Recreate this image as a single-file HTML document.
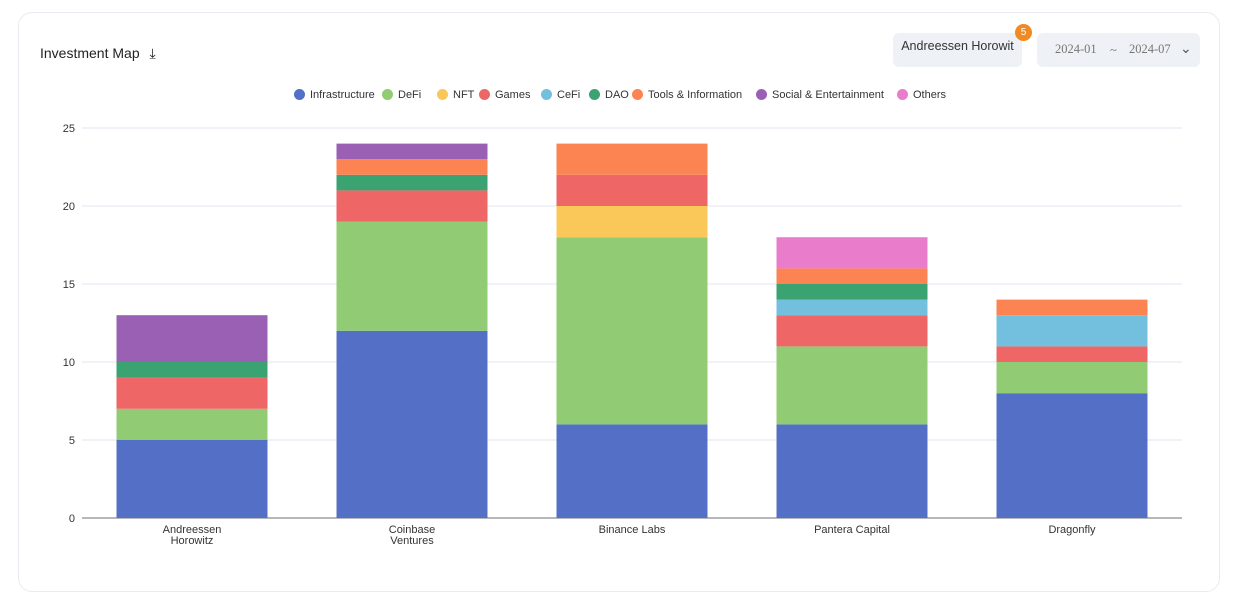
<!DOCTYPE html>
<html><head><meta charset="utf-8"><style>
body{margin:0;width:1246px;height:580px;background:#fff;font-family:"Liberation Sans",sans-serif;overflow:hidden;position:relative}
.card{position:absolute;left:18px;top:12px;width:1202px;height:580px;border:1px solid #e8ebf0;border-radius:14px;box-sizing:border-box}
.title{position:absolute;left:40px;top:45px;font-size:14px;color:#222;font-weight:500}
.btn{position:absolute;left:893px;top:33px;width:129px;height:34px;background:#eef1f5;border-radius:6px;font-size:12.5px;color:#333;text-align:center;line-height:26px}
.badge{position:absolute;left:1015px;top:24px;width:17px;height:17px;border-radius:50%;background:#f08a24;color:#fff;font-size:10px;text-align:center;line-height:17px}
.date{position:absolute;left:1037px;top:33px;width:163px;height:34px;background:#eef1f5;border-radius:6px;font-family:"Liberation Serif",serif;font-size:12.5px;color:#777}
.leg{position:absolute;top:89px;font-size:11px;color:#333;white-space:nowrap}
.leg i{display:inline-block;width:11px;height:11px;border-radius:50%;vertical-align:-2px;margin-right:5px}
</style></head><body>
<div class="card"></div>
<div class="title">Investment Map <span style="margin-left:6px">⤓</span></div>
<div class="btn">Andreessen Horowit</div>
<div class="badge">5</div>
<div class="date"><span style="position:absolute;left:18px;top:9px">2024-01</span><span style="position:absolute;left:73px;top:10px">~</span><span style="position:absolute;left:92px;top:9px">2024-07</span><span style="position:absolute;left:143px;top:7px;font-family:'Liberation Sans';font-size:14px;color:#555">⌄</span></div>
<div id="legend"></div>
<svg id="chart" width="1246" height="580" style="position:absolute;left:0;top:0"></svg>
<script>
const categories=["Andreessen\nHorowitz","Coinbase\nVentures","Binance Labs","Pantera Capital","Dragonfly"];
const seriesNames=["Infrastructure","DeFi","NFT","Games","CeFi","DAO","Tools & Information","Social & Entertainment","Others"];
const colors=["#5470c6","#91cc75","#fac858","#ee6666","#73c0de","#3ba272","#fc8452","#9a60b4","#ea7ccc"];
const infra=[5,12,6,6,8];
const defi=[2,7,12,5,2];
const nft=[0,0,2,0,0];
const games=[2,2,2,2,1];
const cefi=[0,0,0,1,2];
const dao=[1,1,0,1,0];
const tools=[0,1,2,1,1];
const social=[3,1,0,0,0];
const others=[0,0,0,2,0];
const yTicks=[0,5,10,15,20,25];
const series=[infra,defi,nft,games,cefi,dao,tools,social,others];
const legX=[294,382,437,479,541,589,632,756,897];
const NS="http://www.w3.org/2000/svg";
const svg=document.getElementById('chart');
const x0=82,x1=1182,y0=518,y1=128,ymax=25;
const band=(x1-x0)/categories.length;
const Y=v=>y0-(v/ymax)*(y0-y1);
const X=i=>x0+band*i+band/2;
function mk(t,a){const e=document.createElementNS(NS,t);for(const k in a)e.setAttribute(k,a[k]);svg.appendChild(e);return e;}
yTicks.forEach(t=>{
  const l=mk('line',{x1:x0,x2:x1,y1:Y(t),y2:Y(t),stroke:t===0?'#6e7079':'#e0e6f1'});
  
  
  const tx=mk('text',{x:x0-7,y:Y(t)+4,'text-anchor':'end','font-size':11,fill:'#333','font-family':'Liberation Sans'});
  tx.textContent=t;
  
  
});
categories.forEach((c,i)=>{
  let acc=0;
  series.forEach((s,k)=>{
    if(!s[i])return;
    const r=mk('rect',{x:X(i)-75.5,width:151,y:Y(acc+s[i]),height:Y(acc)-Y(acc+s[i]),fill:colors[k]});
    
    
    acc+=s[i];
  });
  c.split('\n').forEach((ln,j)=>{
    const t=mk('text',{x:X(i),y:y0+15+j*11,'text-anchor':'middle','font-size':11,fill:'#333','font-family':'Liberation Sans'});
    t.textContent=ln;
    
    
  });
});
const leg=document.getElementById('legend');
seriesNames.forEach((n,k)=>{
  const d=document.createElement('div');
  d.className='leg';d.style.left=legX[k]+'px';
  d.innerHTML='<i style="background:'+colors[k]+'"></i>'+n.replace('&','&amp;');
  
  
  leg.appendChild(d);
});
</script>
</body></html>
